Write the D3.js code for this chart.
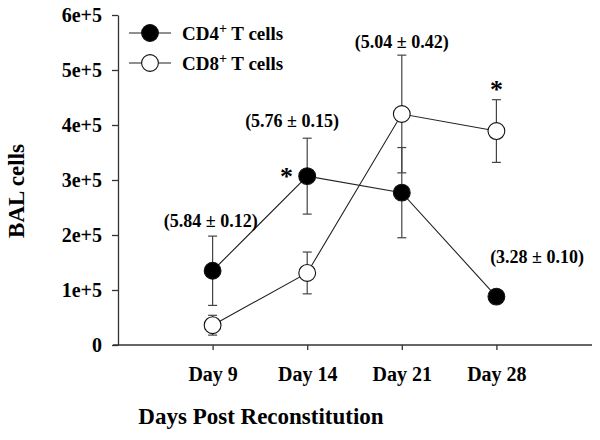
<!DOCTYPE html>
<html>
<head>
<meta charset="utf-8">
<script src="https://cdn.jsdelivr.net/npm/d3@7"></script>
<style>
  html, body { margin: 0; padding: 0; background: #fff; }
  svg { display: block; }
  text { font-family: "Liberation Serif", "Times New Roman", serif; font-weight: bold; fill: #000; }
</style>
</head>
<body>
<svg id="chart" width="600" height="440"></svg>
<script>
// ---- data ----
const days = ["Day 9", "Day 14", "Day 21", "Day 28"];
const cd4Mean = [135000, 307000, 277000, 88000];
const cd4Err  = [63000, 69000, 82000, 4000];
const cd8Mean = [36000, 131000, 420000, 389000];
const cd8Err  = [18000, 38000, 107000, 57000];
const yTicks = [0, 100000, 200000, 300000, 400000, 500000, 600000];
const yTickLabels = ["0", "1e+5", "2e+5", "3e+5", "4e+5", "5e+5", "6e+5"];
const seriesNames = ["CD4", "CD8"];
// annotation text, x position (category units), y position (data units, baseline)
const annText = ["(5.84 \u00b1 0.12)", "(5.76 \u00b1 0.15)", "(5.04 \u00b1 0.42)", "(3.28 \u00b1 0.10)"];
const annX = [0.98, 1.84, 3.0, 4.43];
const annY = [215000, 396000, 540000, 149000];
const starX = [1.78, 4.0];
const starY = [291000, 450000];

// ---- layout ----
const svg = d3.select("#chart");
const x = d3.scaleLinear().domain([0, 5]).range([118, 591]);
const y = d3.scaleLinear().domain([0, 600000]).range([345, 15]);
const axisColor = "#333";

// y axis
const yAxis = d3.axisLeft(y).tickValues(yTicks)
  .tickFormat((d, i) => yTickLabels[i]).tickSize(6).tickSizeOuter(0).tickPadding(10);
const gy = svg.append("g").attr("transform", `translate(${x(0)},0)`).call(yAxis);
gy.select(".domain").attr("stroke", axisColor).attr("stroke-width", 1.3);
gy.selectAll(".tick line").attr("stroke", axisColor).attr("stroke-width", 1.3);
gy.selectAll(".tick text").style("font-size", "20px").attr("fill", "#000")
  .attr("font-family", null);

// x axis
const xAxis = d3.axisBottom(x).tickValues([1, 2, 3, 4])
  .tickFormat(d => days[d - 1]).tickSize(5).tickSizeOuter(0).tickPadding(17);
const gx = svg.append("g").attr("transform", `translate(0,${y(0)})`).call(xAxis);
gx.select(".domain").remove();
gx.append("line").attr("x1", x(0) - 5).attr("x2", x(5) + 1).attr("y1", 0).attr("y2", 0)
  .attr("stroke", axisColor).attr("stroke-width", 1.3);
gx.selectAll(".tick line").attr("stroke", axisColor).attr("stroke-width", 1.3);
gx.selectAll(".tick text").style("font-size", "20px").attr("fill", "#000")
  .attr("font-family", null);

// axis titles
svg.append("text").attr("x", 261).attr("y", 424).attr("text-anchor", "middle")
  .style("font-size", "23px").text("Days Post Reconstitution");
svg.append("text").attr("transform", `translate(24,${y(280000)}) rotate(-90)`)
  .attr("text-anchor", "middle").style("font-size", "23px").text("BAL cells");

// series
const series = [
  { mean: cd4Mean, err: cd4Err, fill: "#000" },
  { mean: cd8Mean, err: cd8Err, fill: "#fff" }
];
const line = d3.line().x((d, i) => x(i + 1)).y(d => y(d));
const r = 8.4, cap = 4.5;

// error bars first
series.forEach(s => {
  const g = svg.append("g");
  s.mean.forEach((m, i) => {
    const cx = x(i + 1), top = y(m + s.err[i]), bot = y(m - s.err[i]);
    g.append("line").attr("x1", cx).attr("x2", cx).attr("y1", top).attr("y2", bot)
      .attr("stroke", "#444").attr("stroke-width", 1.2);
    [top, bot].forEach(yy => g.append("line").attr("x1", cx - cap).attr("x2", cx + cap)
      .attr("y1", yy).attr("y2", yy).attr("stroke", "#444").attr("stroke-width", 1.2));
  });
});
// lines
series.forEach(s => {
  svg.append("path").datum(s.mean).attr("d", line).attr("fill", "none")
    .attr("stroke", "#222").attr("stroke-width", 1.1);
});
// points
series.forEach(s => {
  svg.append("g").selectAll("circle").data(s.mean).join("circle")
    .attr("cx", (d, i) => x(i + 1)).attr("cy", d => y(d)).attr("r", r)
    .attr("fill", s.fill).attr("stroke", "#111").attr("stroke-width", 1.1);
});

// annotations
svg.append("g").selectAll("text").data(annText).join("text")
  .attr("x", (d, i) => x(annX[i])).attr("y", (d, i) => y(annY[i]))
  .attr("text-anchor", "middle").style("font-size", "18px").text(d => d);
svg.append("g").selectAll("text").data(starX).join("text")
  .attr("x", d => x(d)).attr("y", (d, i) => y(starY[i]))
  .attr("text-anchor", "middle").style("font-size", "26px").text("*");

// legend
const legend = svg.append("g");
const legendFill = ["#000", "#fff"];
const legendLabel = ["CD4", "CD8"];
legendLabel.forEach((lab, i) => {
  const ly = 33 + i * 30;
  legend.append("line").attr("x1", 129).attr("x2", 171).attr("y1", ly).attr("y2", ly)
    .attr("stroke", "#222").attr("stroke-width", 1.1);
  legend.append("circle").attr("cx", 150).attr("cy", ly).attr("r", r)
    .attr("fill", legendFill[i]).attr("stroke", "#111").attr("stroke-width", 1.1);
  const t = legend.append("text").attr("x", 182).attr("y", ly + 7).style("font-size", "19px");
  t.append("tspan").text(lab);
  t.append("tspan").attr("dy", -7).style("font-size", "14px").text("+");
  t.append("tspan").attr("dy", 7).text(" T cells");
});
</script>
</body>
</html>
